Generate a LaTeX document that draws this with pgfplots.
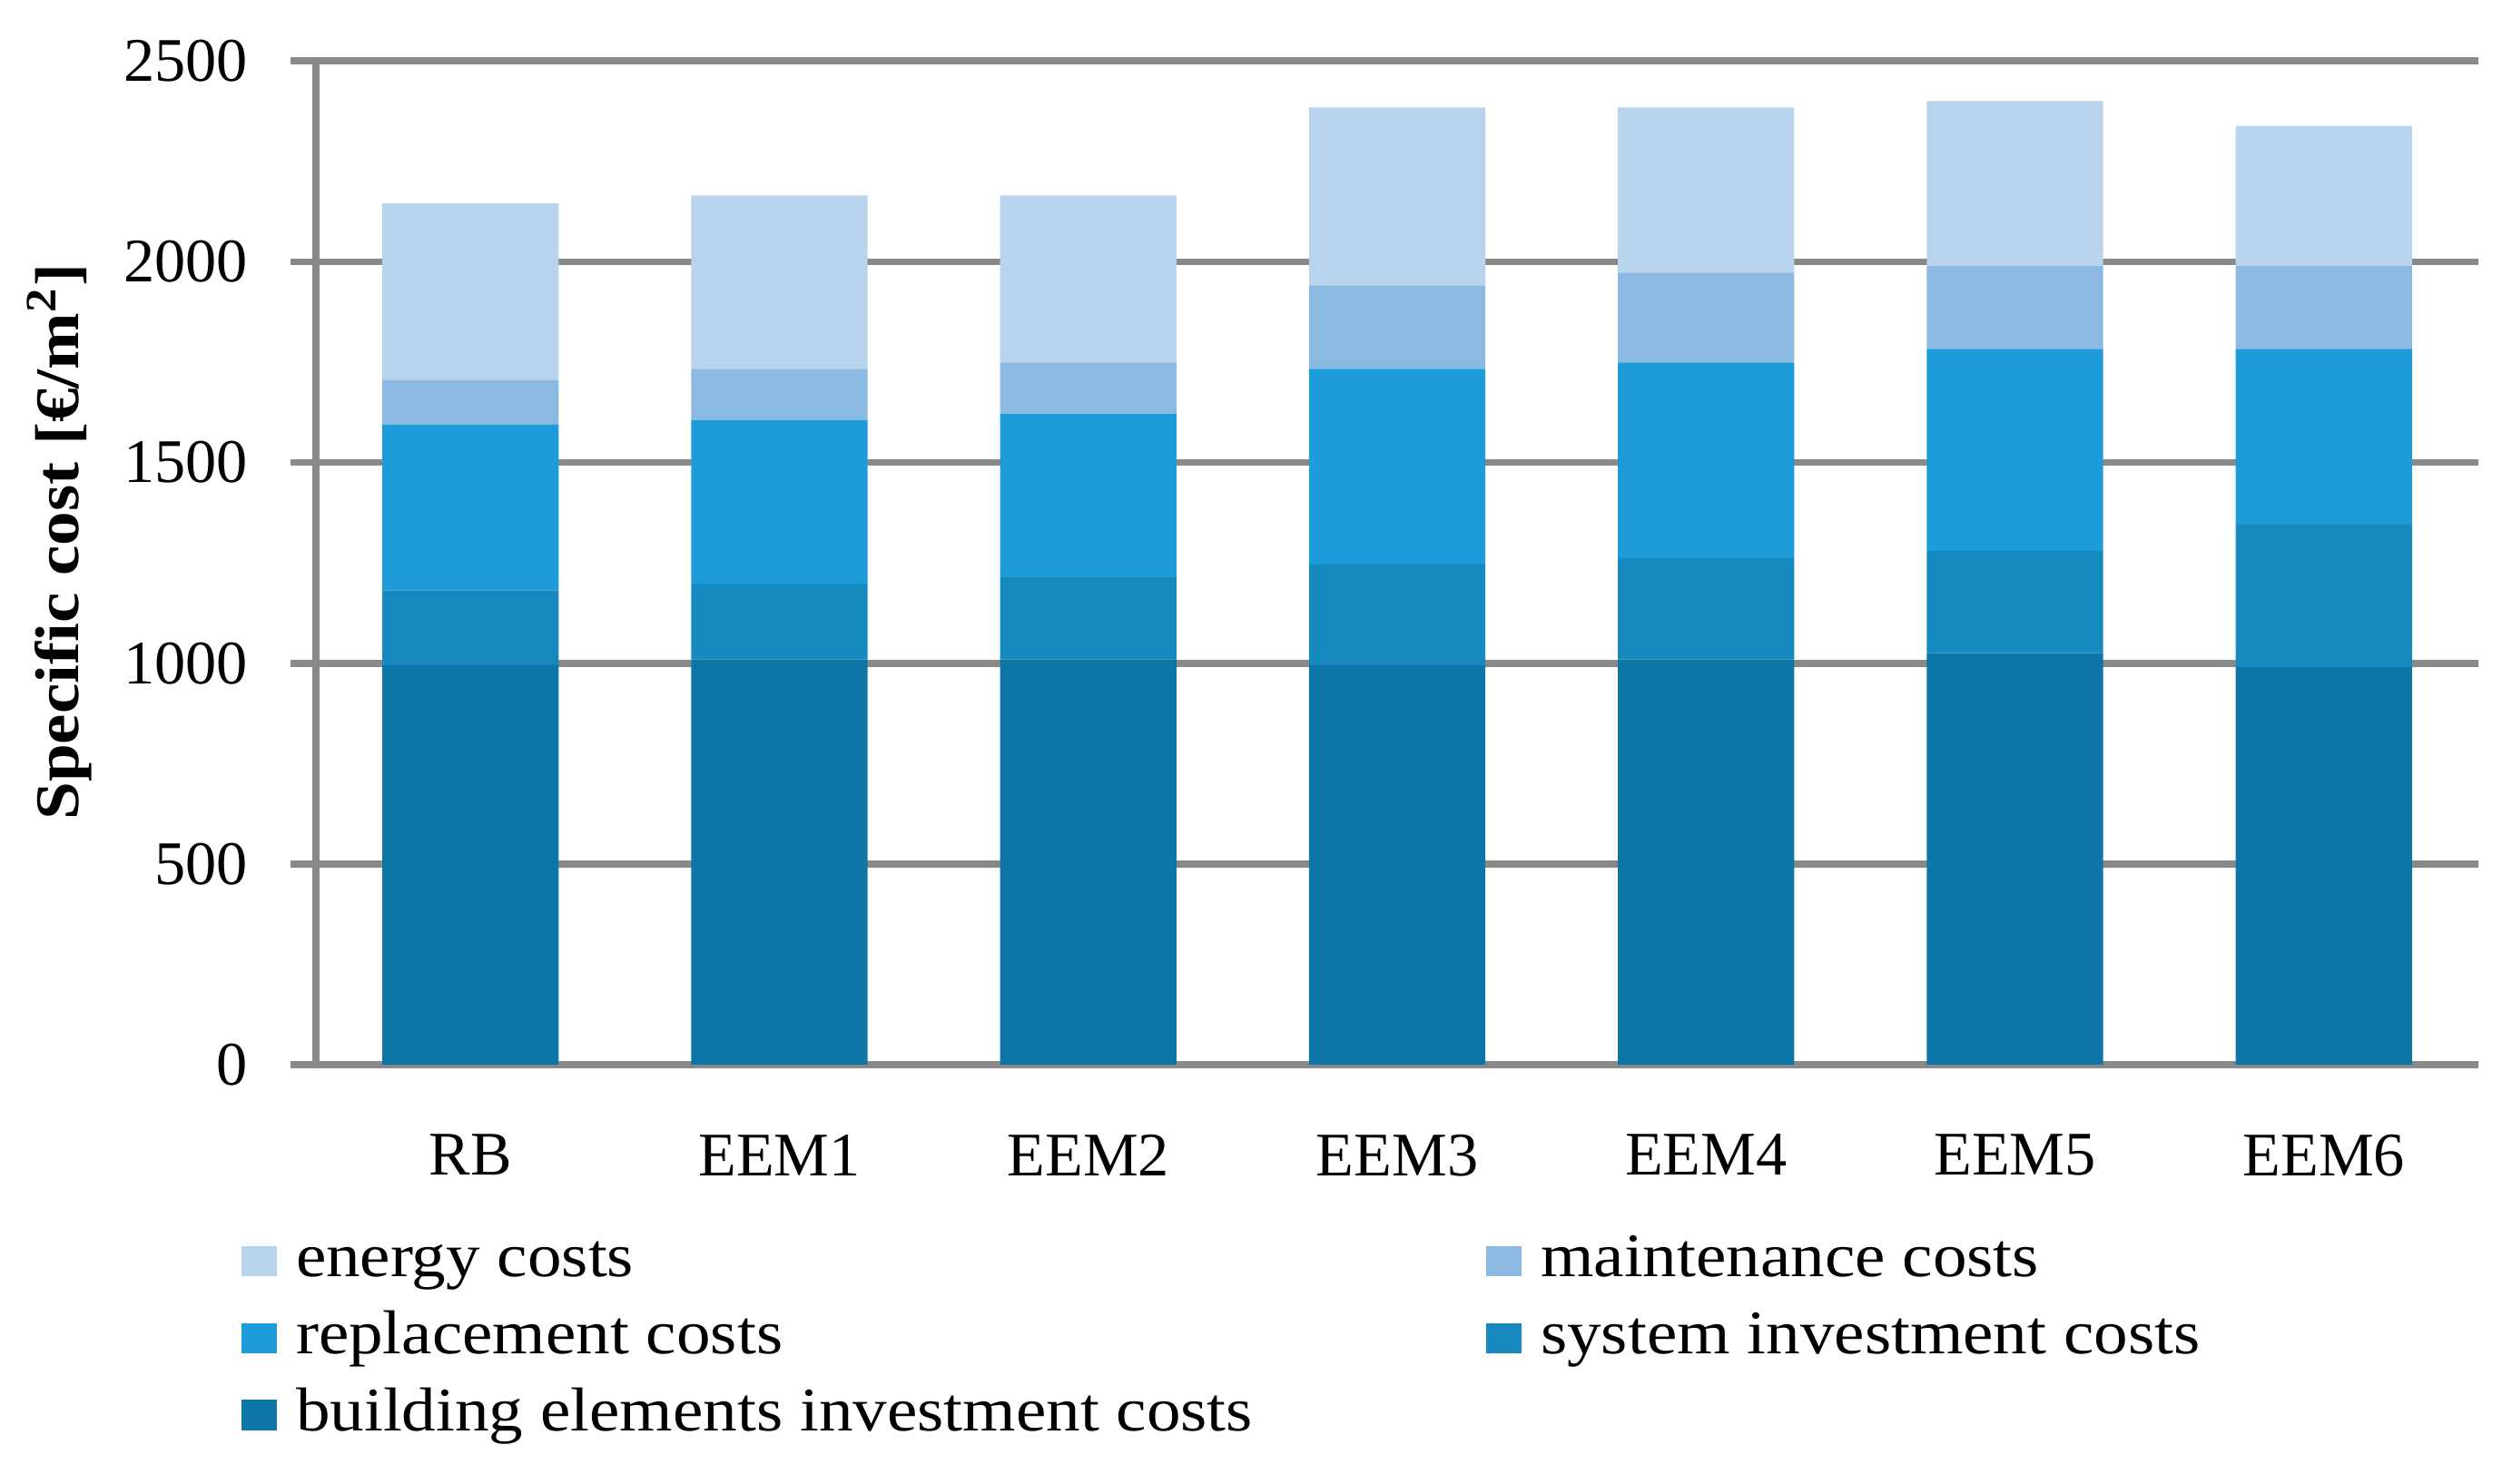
\documentclass[border=0pt]{standalone}
\usepackage{fontspec}
\setmainfont{Liberation Serif}[FakeStretch=1.1]
\newfontfamily\tickfont{Liberation Serif}
\usepackage{pgfplots}
\pgfplotsset{compat=1.18}
\usepackage{pgfplotstable}

\definecolor{cEnergy}{HTML}{B8D3EC}
\definecolor{cMaint}{HTML}{8BB9E1}
\definecolor{cRepl}{HTML}{1E9CD9}
\definecolor{cSys}{HTML}{1689BF}
\definecolor{cBuild}{HTML}{0E76A6}
\definecolor{gridgray}{HTML}{898989}

\pgfplotsset{cbar/.style={fill=#1, draw=none,
  legend image code/.code={\fill[#1] (0mm,-0.95mm) rectangle (2.2mm,0.95mm);}}}

% segment values per scenario (RB, EEM1..EEM6)
\pgfplotstableread{
x build sys repl maint energy
0 995 187 412 111 440
1 1010 188 408 127 432
2 1010 204 408 127 416
3 995 251 487 208 443
4 1010 252 487 224 411
5 1025 255 503 206 411
6 990 355 438 206 349
}\costs

\begin{document}
\begin{tikzpicture}
\begin{axis}[name=ax,
  scale only axis, width=134.8mm, height=62.6mm,
  ybar stacked, bar width=11mm,
  xmin=-0.5, xmax=6.5, ymin=0, ymax=2500,
  xtick=data, xticklabels={RB,EEM1,EEM2,EEM3,EEM4,EEM5,EEM6},
  ytick={0,500,...,2500},
  axis x line*=bottom, axis y line*=left,
  axis line style={draw=gridgray, line width=1.2pt, -},
  ymajorgrids, major grid style={draw=gridgray, line width=1.2pt},
  tick align=outside, major tick length=1.6mm,
  ytick style={draw=gridgray, line width=1.2pt},
  xtick style={draw=none},
  /pgf/number format/assume math mode=true,
  /pgf/number format/set thousands separator={},
  ticklabel style={font=\tickfont\fontsize{11}{13}\selectfont},
  yticklabel style={xshift=-1.4mm},
  xticklabel style={yshift=-1.5mm},
  ylabel={\bfseries Specific cost [€/m\textsuperscript{2}]},
  every axis y label/.style={at={(axis description cs:-0.1187,0.521)}, rotate=90, anchor=center, font=\fontsize{11}{13}\selectfont},
  reverse legend,
  legend columns=2,
  legend style={at={(axis description cs:-0.035,-0.165)}, anchor=north west, draw=none,
    font=\fontsize{11}{13}\selectfont, inner sep=0pt, row sep=1.1mm,
    nodes={inner sep=0pt, text height=2.8mm, text depth=0.9mm},
    /tikz/every odd column/.append style={column sep=1.2mm},
    /tikz/every even column/.append style={column sep=0mm}},
  legend cell align=left,
]
\addplot[cbar=cBuild] table[x=x, y=build] {\costs};
\addlegendentry{\makebox[74.2mm][l]{building elements investment costs}}
\addplot[cbar=cSys] table[x=x, y=sys] {\costs};
\addlegendentry{system investment costs}
\addplot[cbar=cRepl] table[x=x, y=repl] {\costs};
\addlegendentry{\makebox[74.2mm][l]{replacement costs}}
\addplot[cbar=cMaint] table[x=x, y=maint] {\costs};
\addlegendentry{maintenance costs}
\addplot[cbar=cEnergy] table[x=x, y=energy] {\costs};
\addlegendentry{\makebox[74.2mm][l]{energy costs}}
\end{axis}
\path ([xshift=-19.7mm,yshift=-26.1mm]ax.south west) rectangle ([xshift=2.1mm,yshift=3.8mm]ax.north east);
\end{tikzpicture}
\end{document}
